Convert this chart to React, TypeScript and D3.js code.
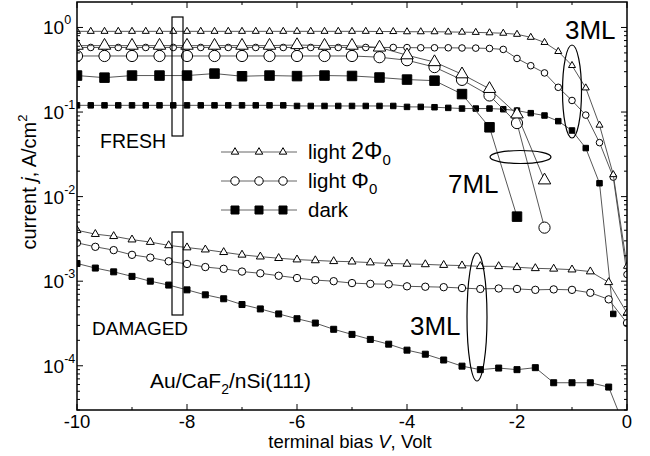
import React from "react";
import * as d3 from "d3";

const W = 650;
const H = 456;
const FONT = "'Liberation Sans', Arial, sans-serif";

// fresh 3ML, step 0.25 V
const vFresh3 = [
  -10, -9.75, -9.5, -9.25, -9, -8.75, -8.5, -8.25, -8, -7.75, -7.5, -7.25, -7, -6.75,
  -6.5, -6.25, -6, -5.75, -5.5, -5.25, -5, -4.75, -4.5, -4.25, -4, -3.75, -3.5, -3.25,
  -3, -2.75, -2.5, -2.25, -2, -1.75, -1.5, -1.25, -1, -0.75, -0.5, -0.25, 0,
];
const fresh3Light2 = [
  0.9, 0.9, 0.9, 0.9, 0.9, 0.9, 0.9, 0.9, 0.9, 0.9, 0.9, 0.9, 0.9, 0.9,
  0.9, 0.9, 0.9, 0.9, 0.9, 0.9, 0.9, 0.9, 0.895, 0.895, 0.89, 0.89, 0.89, 0.885,
  0.88, 0.875, 0.865, 0.855, 0.83, 0.765, 0.665, 0.52, 0.355, 0.193, 0.07, 0.0182, 0.0015,
];
const fresh3Light1 = [
  0.58, 0.58, 0.58, 0.58, 0.58, 0.58, 0.58, 0.58, 0.58, 0.58, 0.58, 0.58, 0.58, 0.58,
  0.58, 0.58, 0.58, 0.58, 0.58, 0.58, 0.58, 0.58, 0.58, 0.58, 0.578, 0.575, 0.575, 0.575,
  0.572, 0.57, 0.565, 0.55, 0.43, 0.353, 0.29, 0.196, 0.137, 0.092, 0.0435, 0.017, 0.0012,
];
const fresh3Dark = [
  0.12, 0.12, 0.12, 0.12, 0.12, 0.12, 0.12, 0.12, 0.12, 0.12, 0.12, 0.12, 0.12, 0.12,
  0.12, 0.12, 0.118, 0.118, 0.118, 0.118, 0.118, 0.118, 0.118, 0.118, 0.115, 0.115, 0.114, 0.112,
  0.11, 0.11, 0.11, 0.108, 0.104, 0.097, 0.091, 0.078, 0.0605, 0.0375, 0.0144, 0.00041,
];

// fresh 7ML, step 0.5 V
const vFresh7 = [-10, -9.5, -9, -8.5, -8, -7.5, -7, -6.5, -6, -5.5, -5, -4.5, -4, -3.5, -3, -2.5, -2, -1.5];
const fresh7Light2 = [0.61, 0.61, 0.61, 0.61, 0.61, 0.61, 0.61, 0.61, 0.62, 0.61, 0.61, 0.58, 0.47, 0.39, 0.28, 0.188, 0.094, 0.0156];
const fresh7Light1 = [0.46, 0.46, 0.46, 0.46, 0.46, 0.46, 0.46, 0.46, 0.46, 0.46, 0.46, 0.445, 0.41, 0.34, 0.24, 0.157, 0.074, 0.0043];
const fresh7Dark = [0.27, 0.255, 0.27, 0.27, 0.27, 0.285, 0.265, 0.27, 0.266, 0.27, 0.267, 0.256, 0.242, 0.235, 0.163, 0.066, 0.0058];

// damaged 3ML, step 1/3 V
const vDamaged = [
  -10, -9.667, -9.333, -9, -8.667, -8.333, -8, -7.667, -7.333, -7, -6.667, -6.333, -6, -5.667,
  -5.333, -5, -4.667, -4.333, -4, -3.667, -3.333, -3, -2.667, -2.333, -2, -1.667, -1.333, -1,
  -0.667, -0.333, 0,
];
const damagedLight2 = [
  4.0e-3, 3.6e-3, 3.4e-3, 3.1e-3, 2.9e-3, 2.65e-3, 2.5e-3, 2.36e-3, 2.2e-3, 2.05e-3, 1.95e-3,
  1.87e-3, 1.8e-3, 1.76e-3, 1.72e-3, 1.7e-3, 1.66e-3, 1.62e-3, 1.6e-3, 1.58e-3, 1.55e-3,
  1.53e-3, 1.5e-3, 1.5e-3, 1.46e-3, 1.42e-3, 1.4e-3, 1.37e-3, 1.3e-3, 9.7e-4, 4.2e-4,
];
const damagedLight1 = [
  2.84e-3, 2.55e-3, 2.33e-3, 2.05e-3, 1.9e-3, 1.72e-3, 1.6e-3, 1.47e-3, 1.4e-3, 1.3e-3, 1.24e-3,
  1.16e-3, 1.09e-3, 1.03e-3, 1.0e-3, 9.5e-4, 9.3e-4, 9.2e-4, 8.7e-4, 8.6e-4, 8.5e-4,
  8.3e-4, 8.1e-4, 8.2e-4, 8.1e-4, 7.9e-4, 8.0e-4, 7.9e-4, 7.3e-4, 6.1e-4, 3.2e-4,
];
const damagedDark = [
  1.62e-3, 1.43e-3, 1.29e-3, 1.14e-3, 1.0e-3, 9.0e-4, 7.9e-4, 6.9e-4, 6.2e-4, 5.3e-4, 4.7e-4,
  4.1e-4, 3.6e-4, 3.2e-4, 2.7e-4, 2.35e-4, 2.05e-4, 1.8e-4, 1.53e-4, 1.37e-4, 1.17e-4,
  9.9e-5, 9.0e-5, 9.4e-5, 9.0e-5, 9.5e-5, 6.3e-5, 6.3e-5, 6.3e-5, 5.6e-5, 1.6e-5,
];

const xTicks = [-10, -8, -6, -4, -2, 0];
const xMinor = [-9, -7, -5, -3, -1];
const yDecades = [1e0, 1e-1, 1e-2, 1e-3, 1e-4];
const yExp = ["0", "-1", "-2", "-3", "-4"];

type Shape = "tri" | "circ" | "sq";

function Marker({ shape, cx, cy, s, fill }: { shape: Shape; cx: number; cy: number; s: number; fill: string }) {
  if (shape === "circ") return <circle cx={cx} cy={cy} r={s} fill={fill} stroke="#000" strokeWidth={1} />;
  const sym =
    shape === "tri"
      ? d3.symbol(d3.symbolTriangle, (Math.sqrt(3) / 4) * s * s)
      : d3.symbol(d3.symbolSquare, s * s);
  return <path d={sym() || ""} transform={`translate(${cx},${cy})`} fill={fill} stroke="#000" strokeWidth={1} />;
}

export default function App() {
  const x = d3.scaleLinear().domain([-10, 0]).range([77, 627]);
  const y = d3.scaleLog().domain([3e-5, 2]).range([410, 2]);
  const [x0, x1] = x.range();
  const [y0, y1] = y.range();

  const line = d3
    .line<[number, number]>()
    .x((d) => x(d[0]))
    .y((d) => y(d[1]));

  const series = [
    { xs: vFresh3, ys: fresh3Dark, shape: "sq" as Shape, s: 5.5, fill: "#000" },
    { xs: vFresh3, ys: fresh3Light1, shape: "circ" as Shape, s: 3.3, fill: "#fff" },
    { xs: vFresh3, ys: fresh3Light2, shape: "tri" as Shape, s: 7, fill: "#fff" },
    { xs: vFresh7, ys: fresh7Dark, shape: "sq" as Shape, s: 9.5, fill: "#000" },
    { xs: vFresh7, ys: fresh7Light1, shape: "circ" as Shape, s: 5.6, fill: "#fff" },
    { xs: vFresh7, ys: fresh7Light2, shape: "tri" as Shape, s: 12.5, fill: "#fff" },
    { xs: vDamaged, ys: damagedDark, shape: "sq" as Shape, s: 6, fill: "#000" },
    { xs: vDamaged, ys: damagedLight1, shape: "circ" as Shape, s: 3.7, fill: "#fff" },
    { xs: vDamaged, ys: damagedLight2, shape: "tri" as Shape, s: 8, fill: "#fff" },
  ];

  const yMinor: number[] = [];
  for (let e = -5; e <= 0; e++) {
    for (let k = 2; k <= 9; k++) {
      const v = k * Math.pow(10, e);
      if (v >= 3e-5 && v < 1.95) yMinor.push(v);
    }
  }

  const legendRows = [
    { shape: "tri" as Shape, s: 7.5, fill: "#fff", y: 152 },
    { shape: "circ" as Shape, s: 4.2, fill: "#fff", y: 181 },
    { shape: "sq" as Shape, s: 8, fill: "#000", y: 210 },
  ];
  const legendX = [235, 259, 283];

  return (
    <svg width={W} height={H} style={{ position: "absolute", left: 0, top: 0, background: "#fff" }} fontFamily={FONT}>
      <defs>
        <clipPath id="plot">
          <rect x={x0} y={y1} width={x1 - x0} height={y0 - y1} />
        </clipPath>
      </defs>

      <g clipPath="url(#plot)">
        {series.map((sr, i) => {
          const pts = sr.ys.map((v, j) => [sr.xs[j], v] as [number, number]);
          return (
            <g key={i}>
              <path d={line(pts) || ""} fill="none" stroke="#444" strokeWidth={0.9} />
              {pts.map((p, j) => (
                <Marker key={j} shape={sr.shape} cx={x(p[0])} cy={y(p[1])} s={sr.s} fill={sr.fill} />
              ))}
            </g>
          );
        })}
      </g>

      {/* ticks */}
      <g stroke="#000" strokeWidth={1}>
        {xTicks.map((t) => (
          <g key={"xt" + t}>
            <line x1={x(t)} x2={x(t)} y1={y0} y2={y0 - 6} />
            <line x1={x(t)} x2={x(t)} y1={y1} y2={y1 + 6} />
          </g>
        ))}
        {xMinor.map((t) => (
          <g key={"xm" + t}>
            <line x1={x(t)} x2={x(t)} y1={y0} y2={y0 - 3} />
            <line x1={x(t)} x2={x(t)} y1={y1} y2={y1 + 3} />
          </g>
        ))}
        {yDecades.map((t) => (
          <g key={"yt" + t}>
            <line x1={x0} x2={x0 + 6} y1={y(t)} y2={y(t)} />
            <line x1={x1} x2={x1 - 6} y1={y(t)} y2={y(t)} />
          </g>
        ))}
        {yMinor.map((t) => (
          <g key={"ym" + t}>
            <line x1={x0} x2={x0 + 3} y1={y(t)} y2={y(t)} />
            <line x1={x1} x2={x1 - 3} y1={y(t)} y2={y(t)} />
          </g>
        ))}
      </g>

      <rect x={x0} y={y1} width={x1 - x0} height={y0 - y1} fill="none" stroke="#000" strokeWidth={1.5} />

      {/* tick labels */}
      {xTicks.map((t) => (
        <text key={"xl" + t} x={x(t)} y={428} textAnchor="middle" fontSize={18.5}>
          {t}
        </text>
      ))}
      {yDecades.map((t, i) => (
        <text key={"yl" + t} x={43} y={y(t) + 7} fontSize={19}>
          10
          <tspan dy={-10} fontSize={12.5}>
            {yExp[i]}
          </tspan>
        </text>
      ))}

      {/* axis titles */}
      <text x={350} y={448} textAnchor="middle" fontSize={18.5}>
        terminal bias <tspan fontStyle="italic">V</tspan>, Volt
      </text>
      <text transform="translate(36,182) rotate(-90)" textAnchor="middle" fontSize={20}>
        current <tspan fontStyle="italic">j</tspan>, A/cm
        <tspan dy={-9} fontSize={13}>
          2
        </tspan>
      </text>

      {/* legend */}
      {legendRows.map((r, i) => (
        <g key={"lg" + i}>
          <line x1={221} x2={297} y1={r.y} y2={r.y} stroke="#666" strokeWidth={1} />
          {legendX.map((lx) => (
            <Marker key={lx} shape={r.shape} cx={lx} cy={r.y} s={r.s} fill={r.fill} />
          ))}
        </g>
      ))}
      <text x={308} y={159} fontSize={20.5}>
        light <tspan fontSize={23}>2Φ</tspan>
        <tspan dy={6} fontSize={15}>
          0
        </tspan>
      </text>
      <text x={308} y={188} fontSize={20.5}>
        light <tspan fontSize={22}>Φ</tspan>
        <tspan dy={6} fontSize={15}>
          0
        </tspan>
      </text>
      <text x={308} y={217} fontSize={20.5}>
        dark
      </text>

      {/* annotations */}
      <rect x={172} y={17} width={11} height={119} fill="none" stroke="#000" strokeWidth={1.2} />
      <rect x={172} y={232} width={11} height={83} fill="none" stroke="#000" strokeWidth={1.2} />
      <text x={100} y={148} fontSize={19.5}>FRESH</text>
      <text x={92} y={335} fontSize={19}>DAMAGED</text>
      <text x={150} y={388} fontSize={21}>
        Au/CaF
        <tspan dy={6} fontSize={14}>
          2
        </tspan>
        <tspan dy={-6}>/nSi(111)</tspan>
      </text>

      <ellipse cx={572} cy={91.5} rx={9.5} ry={46.5} fill="none" stroke="#000" strokeWidth={1.2} />
      <ellipse cx={520.5} cy={157} rx={30.5} ry={6.5} fill="none" stroke="#000" strokeWidth={1.2} />
      <ellipse cx={477} cy={317} rx={10} ry={64} fill="none" stroke="#000" strokeWidth={1.2} />
      <text x={565} y={38.5} fontSize={26}>3ML</text>
      <text x={448} y={193} fontSize={26}>7ML</text>
      <text x={410} y={335} fontSize={26}>3ML</text>
    </svg>
  );
}
